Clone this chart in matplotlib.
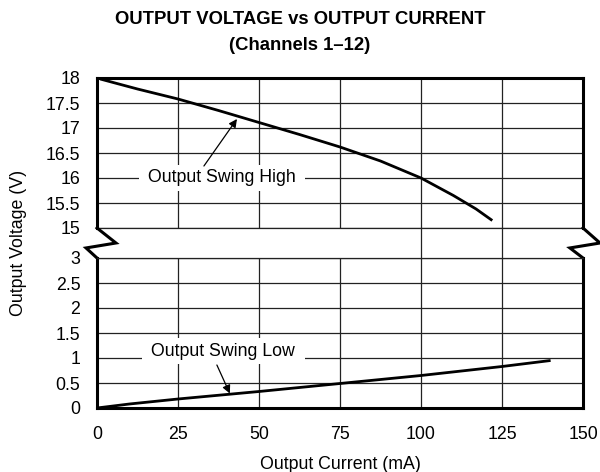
import numpy as np
import matplotlib
matplotlib.use('Agg')
from matplotlib import pyplot as plt
from matplotlib.transforms import blended_transform_factory

plt.rcParams['font.family'] = ['Liberation Sans', 'DejaVu Sans']

# output current (mA) and output voltage (V)
i_high = [1, 5, 12.5, 25, 37.5, 50, 62.5, 75, 87.5, 100, 110, 117, 122]
v_high = [17.98, 17.91, 17.78, 17.58, 17.35, 17.11, 16.87, 16.62, 16.34, 16.0, 15.65, 15.38, 15.15]

i_low = [0, 10, 25, 50, 75, 100, 125, 140]
v_low = [0.0, 0.08, 0.18, 0.33, 0.49, 0.65, 0.83, 0.95]

x_ticks = [0, 25, 50, 75, 100, 125, 150]
y_ticks_high = [15, 15.5, 16, 16.5, 17, 17.5, 18]
y_ticks_low = [0, 0.5, 1, 1.5, 2, 2.5, 3]

fs = 12.8
spine_lw = 2.2
grid_lw = 0.9
grid_col = '#222222'

fig = plt.figure(figsize=(6, 4.72), dpi=100)
W, H = 600.0, 472.0
ax_top = fig.add_axes([97 / W, 1 - 228 / H, 486 / W, 150 / H])
ax_bot = fig.add_axes([97 / W, 1 - 408 / H, 486 / W, 150 / H])

for ax in (ax_top, ax_bot):
    ax.set_xlim(0, 150)
    ax.set_xticks(x_ticks)
    ax.tick_params(length=0, labelsize=fs)
    ax.tick_params(axis='y', pad=12)
    ax.tick_params(axis='x', pad=13)
    ax.grid(True, color=grid_col, lw=grid_lw)
    ax.set_axisbelow(True)
    for s in ax.spines.values():
        s.set_linewidth(spine_lw)

ax_top.set_ylim(15, 18)
ax_top.set_yticks(y_ticks_high)
ax_top.set_yticklabels(['15', '15.5', '16', '16.5', '17', '17.5', '18'])
ax_top.tick_params(axis='x', labelbottom=False)
ax_top.spines['bottom'].set_linewidth(grid_lw)
ax_top.spines['bottom'].set_color(grid_col)

ax_bot.set_ylim(0, 3)
ax_bot.set_yticks(y_ticks_low)
ax_bot.set_yticklabels(['0', '0.5', '1', '1.5', '2', '2.5', '3'])
ax_bot.spines['top'].set_linewidth(grid_lw)
ax_bot.spines['top'].set_color(grid_col)

ax_top.plot(i_high, v_high, color='black', lw=2.0, solid_capstyle='butt')
ax_bot.plot(i_low, v_low, color='black', lw=2.0, solid_capstyle='butt')

# break marks on both sides
ax_bot.plot([0, 0.039, -0.0226, 0], [1.2, 1.1, 1.067, 1.0], color='black',
            lw=spine_lw, transform=ax_bot.transAxes, clip_on=False,
            solid_joinstyle='miter')
ax_bot.plot([1, 1.035, 0.973, 1], [1.2, 1.1, 1.067, 1.0], color='black',
            lw=spine_lw, transform=ax_bot.transAxes, clip_on=False,
            solid_joinstyle='miter')
trans = blended_transform_factory(ax_bot.transData, ax_bot.transAxes)
for xg in [100, 125]:
    ax_bot.plot([xg, xg], [1.0, 1.2], color=grid_col, lw=grid_lw,
                transform=trans, clip_on=False)

# labels for the curves
box = dict(boxstyle='square,pad=0.25', fc='white', ec='none')
ax_top.text(38.6, 16.0, ' Output Swing High ', fontsize=fs, ha='center',
            va='center', bbox=box, zorder=3)
ax_top.annotate('', xy=(43.2, 17.18), xytext=(33.0, 16.24),
                arrowprops=dict(arrowstyle='-|>', color='black', lw=0.9,
                                mutation_scale=12, shrinkA=0, shrinkB=0),
                zorder=4)
ax_bot.text(39.0, 1.14, ' Output Swing Low ', fontsize=fs, ha='center',
            va='center', bbox=box, zorder=3)
ax_bot.annotate('', xy=(41.0, 0.29), xytext=(37.0, 0.86),
                arrowprops=dict(arrowstyle='-|>', color='black', lw=0.9,
                                mutation_scale=12, shrinkA=0, shrinkB=0),
                zorder=4)

ax_bot.set_xlabel('Output Current (mA)', fontsize=fs, labelpad=9)
fig.text(19 / W, 1 - 243 / H, 'Output Voltage (V)', fontsize=fs,
         rotation=90, ha='center', va='center')

fig.text(0.5, 1 - 19 / H, 'OUTPUT VOLTAGE vs OUTPUT CURRENT', fontsize=13.3,
         fontweight='bold', ha='center', va='center')
fig.text(0.5, 1 - 45 / H, '(Channels 1\u201312)', fontsize=13.3,
         fontweight='bold', ha='center', va='center')

fig.savefig('out.png', dpi=100)
